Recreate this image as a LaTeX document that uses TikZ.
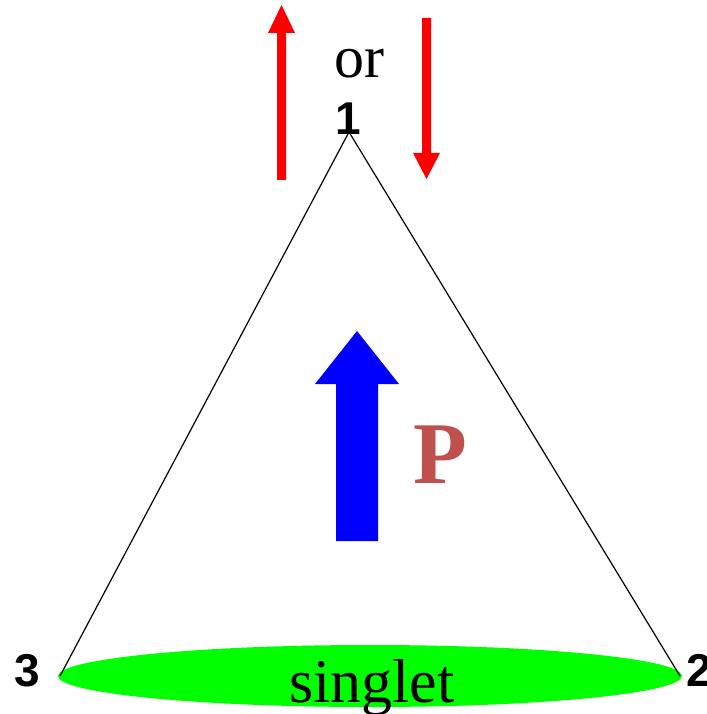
\documentclass[tikz,border=0pt]{standalone}
\usepackage{fontspec}
\setmainfont{Liberation Serif}
\newfontfamily\numfont{Liberation Sans}
\definecolor{pred}{RGB}{192,80,77}
\definecolor{sgreen}{RGB}{0,255,0}
\begin{document}
\begin{tikzpicture}[x=1pt,y=-1pt,
  numlab/.style={inner sep=0pt,anchor=base,font=\numfont\bfseries\fontsize{46}{50}\selectfont},
  serif/.style={inner sep=0pt,anchor=base},
  redarrow/.style={fill=red,draw=none},
  bluearrow/.style={fill=blue,draw=none}]
\useasboundingbox (0,0) rectangle (706,714);
% singlet ellipse
\fill[sgreen] (370,676) ellipse [x radius=312,y radius=31];
\node[serif,font=\fontsize{62}{66}\selectfont] (singlet) at (372,702) {singlet};
% triangle
\coordinate (v1) at (349,132);
\coordinate (v2) at (680,676);
\coordinate (v3) at (60,676);
\draw[black,line width=1.2pt] (v3) -- (v1) -- (v2);
\node[numlab] (l1) at (348.5,135) {1};
\node[numlab] (l3) at (27,686) {3};
\node[numlab,anchor=base west] (l2) at (686,686) {2};
% or
\node[serif,font=\fontsize{60}{64}\selectfont] (or) at (359,78) {or};
% red arrows
\fill[redarrow] (277,180) -- (277,33) -- (268,33) -- (281.5,5) -- (295,33) -- (286,33) -- (286,180) -- cycle;
\fill[redarrow] (422,18) -- (422,153) -- (413,153) -- (426.5,179) -- (440,153) -- (431,153) -- (431,18) -- cycle;
% blue arrow
\fill[bluearrow] (336,541) -- (336,384) -- (315,384) -- (357,331) -- (399,384) -- (378,384) -- (378,541) -- cycle;
\node[serif,anchor=base,text=pred,font=\bfseries\fontsize{88}{92}\selectfont] (P) at (440,483) {P};
\end{tikzpicture}
\end{document}
